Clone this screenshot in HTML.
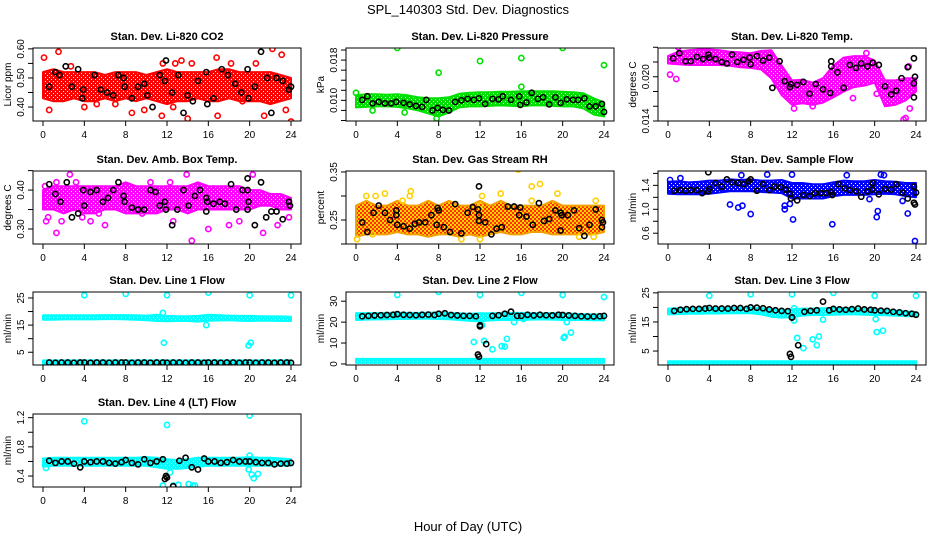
<!DOCTYPE html>
<html><head><meta charset="utf-8"><title>SPL_140303 Std. Dev. Diagnostics</title>
<style>
html,body{margin:0;padding:0;background:#fff;}
svg{display:block;font-family:"Liberation Sans",Arial,sans-serif;}
</style></head>
<body>
<svg id="chart" width="936" height="540" viewBox="0 0 936 540">
<text x="468" y="14" text-anchor="middle" font-size="13">SPL_140303  Std. Dev. Diagnostics</text>
<text x="468" y="531" text-anchor="middle" font-size="13">Hour of Day (UTC)</text>
</svg>
<script>
// ---- shared data ----
const hourTicks = [0,4,8,12,16,20,24];
const bandHours = [0,1,2,3,4,5,6,7,8,9,10,11,12,13,14,15,16,17,18,19,20,21,22,23,24];
const lineHours = [0.6,1.2,1.8,2.4,3.0,3.6,4.0,4.6,5.2,5.8,6.4,7.0,7.6,8.0,8.6,9.2,9.8,10.4,11.0,11.6,12.0,12.6,13.2,13.8,14.4,15.0,15.6,16.0,16.6,17.2,17.8,18.4,19.0,19.6,20.0,20.6,21.2,21.8,22.4,23.0,23.6,24.0];

// CO2
const co2Lo = [0.43,0.42,0.42,0.43,0.42,0.42,0.43,0.42,0.43,0.42,0.43,0.42,0.41,0.42,0.42,0.43,0.42,0.42,0.43,0.42,0.42,0.42,0.41,0.42,0.43];
const co2Hi = [0.52,0.53,0.52,0.52,0.52,0.52,0.51,0.52,0.52,0.52,0.51,0.52,0.53,0.52,0.52,0.52,0.52,0.53,0.53,0.52,0.52,0.52,0.52,0.51,0.50];
const co2OutX = [0.1,1.5,0.6,2.7,4,5.2,7,8.6,11.5,12.6,12.8,13.4,14,14.4,16.8,16.9,18.2,19.3,20.6,21.4,22.2,23.1,23.5,24,9.8,11.6];
const co2OutY = [0.57,0.59,0.39,0.54,0.40,0.41,0.41,0.38,0.37,0.40,0.55,0.56,0.36,0.55,0.57,0.37,0.55,0.42,0.55,0.37,0.60,0.58,0.39,0.35,0.39,0.55];
const co2BlkX = [0.6,1.2,1.6,2.2,2.8,3.4,3.9,3.8,5,5.6,6.2,6.8,7.3,7.9,7.8,8.6,9.2,9.8,10.1,10.6,11.3,11.8,11.9,12.5,13.1,13.6,14,14.5,15,15.8,15.9,16.5,17.3,17.9,18.6,19.2,19.8,19.9,20.5,21.1,21.7,22.1,22.6,23.2,23.8,24];
const co2BlkY = [0.47,0.52,0.51,0.54,0.47,0.53,0.46,0.43,0.51,0.46,0.45,0.44,0.51,0.47,0.50,0.43,0.47,0.48,0.44,0.40,0.51,0.49,0.56,0.45,0.51,0.38,0.44,0.42,0.49,0.52,0.41,0.43,0.53,0.51,0.48,0.45,0.53,0.43,0.47,0.59,0.50,0.38,0.50,0.49,0.46,0.47];

// Pressure
const prsLo = [0.0086,0.0087,0.0088,0.0088,0.0087,0.0084,0.0080,0.0074,0.0068,0.0076,0.0086,0.0088,0.0088,0.0089,0.0090,0.0089,0.0088,0.0090,0.0090,0.0089,0.0088,0.0088,0.0084,0.0072,0.0068];
const prsHi = [0.0110,0.0112,0.0112,0.0111,0.0112,0.0110,0.0106,0.0104,0.0104,0.0106,0.0113,0.0115,0.0116,0.0116,0.0117,0.0117,0.0118,0.0118,0.0118,0.0118,0.0117,0.0116,0.0114,0.0104,0.0096];
const prsOutX = [4,8,12,16,20,24,16,0,1.6,7.8,4.7];
const prsOutY = [0.0204,0.0155,0.0178,0.0184,0.0204,0.0170,0.0127,0.0115,0.0080,0.0064,0.0076];
const prsBlkX = [1.1,0.6,1.6,2.2,2.8,3.4,3.9,4.6,5.2,5.8,6.4,6.8,7.4,7.9,8.4,9,9.6,10.2,10.8,11.4,11.9,12.5,13.2,13.8,14.2,15,15.8,15.9,16.5,17,17.6,18.1,18.7,19.3,19.8,20.4,21,21.5,22.1,22.6,23.2,23.8,24];
const prsBlkY = [0.0108,0.0101,0.0094,0.0097,0.0094,0.0094,0.0097,0.0095,0.0092,0.0089,0.0087,0.0101,0.0080,0.0085,0.0081,0.0080,0.0097,0.0100,0.0103,0.0101,0.0104,0.0093,0.0103,0.0102,0.0108,0.0101,0.0108,0.0091,0.0096,0.0115,0.0103,0.0106,0.0092,0.0106,0.0095,0.0102,0.0101,0.0101,0.0104,0.0088,0.0088,0.0093,0.0077];

// Li-820 Temp
const tmpHi = [0.0228,0.0234,0.0236,0.0237,0.0237,0.0236,0.0234,0.0233,0.0232,0.0235,0.0236,0.0215,0.0195,0.0196,0.0192,0.0198,0.0215,0.0226,0.0228,0.0228,0.0222,0.0195,0.0195,0.0198,0.0198];
const tmpLo = [0.0218,0.0217,0.0216,0.0216,0.0216,0.0216,0.0215,0.0213,0.0212,0.0210,0.0198,0.0175,0.0162,0.0164,0.0162,0.0165,0.0172,0.0180,0.0186,0.0188,0.0192,0.0160,0.0162,0.0168,0.0180];
const tmpOutX = [0.2,0.8,1,12.2,14,17.9,19.2,20.2,22.8,23,23.4,23.3,13];
const tmpOutY = [0.0203,0.0197,0.0240,0.0157,0.0160,0.0171,0.0232,0.0177,0.0142,0.0144,0.0157,0.0214,0.0176];
const tmpBlkX = [0.5,1.1,1.7,2.2,2.8,3.4,3.9,4,4.6,5.2,5.7,6.2,6.7,7.3,7.9,8,8.6,9.2,9.8,10.1,10.8,11.3,11.9,11.8,12.5,13.1,13.7,14.3,15,15.8,15.8,15.7,16.4,17,17.6,18.2,18.7,19.3,19.8,20.4,21,21.6,22.1,22.6,23.2,23.8,23.8,23.9,23.8];
const tmpBlkY = [0.0225,0.0232,0.0221,0.0221,0.0227,0.0224,0.0230,0.0226,0.0224,0.0220,0.0218,0.0230,0.0220,0.0223,0.0226,0.0217,0.0228,0.0222,0.0226,0.0185,0.0221,0.0194,0.0190,0.0186,0.0189,0.0193,0.0177,0.0190,0.0183,0.0221,0.0214,0.0178,0.0206,0.0185,0.0216,0.0212,0.0218,0.0214,0.0219,0.0216,0.0187,0.0176,0.0181,0.0198,0.0213,0.0225,0.0191,0.0200,0.0172];

// Amb box temp
const ambHi = [0.40,0.41,0.41,0.41,0.41,0.41,0.41,0.41,0.42,0.41,0.41,0.41,0.41,0.41,0.41,0.42,0.41,0.41,0.41,0.41,0.40,0.40,0.39,0.39,0.38];
const ambLo = [0.35,0.35,0.34,0.35,0.34,0.34,0.35,0.35,0.34,0.34,0.34,0.34,0.35,0.35,0.34,0.35,0.35,0.35,0.35,0.35,0.35,0.36,0.36,0.35,0.35];
const ambOutX = [0.2,0.3,0.5,1.3,1.3,1.8,2.6,3.2,3.8,4.6,5.4,6,9.6,10.4,12.3,12.6,13.9,14.4,16,18,19,20.3,21.3,22.7,23.8];
const ambOutY = [0.41,0.32,0.33,0.42,0.29,0.32,0.44,0.42,0.33,0.32,0.34,0.31,0.34,0.42,0.42,0.32,0.44,0.27,0.30,0.31,0.32,0.44,0.29,0.31,0.33];
const ambBlkX = [0.6,1.2,1.7,2.3,2.8,3.4,3.9,4,4.6,5.2,5.8,6.3,6.8,7.3,7.8,7.9,8.6,9.2,9.8,10.4,10.9,11.3,11.8,11.9,11.8,12.5,13,13.6,14.1,14.7,15.2,15.8,15.8,15.9,16.5,17.1,17.6,18.2,18.7,19.3,19.8,19.8,19.8,19.9,20.5,21.1,21.6,22.1,22.6,23.2,23.8,23.9];
const ambBlkY = [0.415,0.39,0.37,0.42,0.33,0.34,0.40,0.36,0.395,0.40,0.37,0.38,0.40,0.42,0.385,0.37,0.355,0.35,0.35,0.40,0.395,0.36,0.37,0.35,0.46,0.31,0.35,0.40,0.36,0.385,0.40,0.38,0.345,0.37,0.365,0.37,0.365,0.415,0.35,0.40,0.40,0.43,0.35,0.37,0.31,0.42,0.33,0.345,0.345,0.325,0.37,0.36];

// Gas stream RH
const rhHi = [0.28,0.29,0.28,0.28,0.29,0.28,0.28,0.29,0.28,0.29,0.28,0.28,0.29,0.28,0.29,0.28,0.28,0.28,0.28,0.29,0.28,0.28,0.28,0.28,0.28];
const rhLo = [0.215,0.22,0.22,0.22,0.225,0.22,0.22,0.215,0.22,0.22,0.215,0.22,0.215,0.22,0.225,0.22,0.22,0.225,0.225,0.22,0.22,0.22,0.22,0.22,0.225];
const rhOutX = [0.1,1,1.9,2.8,4.5,5.3,5.2,10.2,12,12.2,14,15.7,17,17.8,19.5,23.2,17,21.6,23,1.6,12];
const rhOutY = [0.21,0.30,0.30,0.305,0.29,0.31,0.30,0.21,0.21,0.30,0.305,0.355,0.32,0.325,0.305,0.29,0.29,0.215,0.215,0.22,0.28];
const rhBlkX = [0.6,1.1,1.7,2.2,2.8,3.3,3.9,3.9,4,4.6,5.2,5.7,6.1,6.7,7.3,7.8,7.9,8,8.5,9.1,9.6,10.2,10.8,11.3,11.8,11.9,11.9,11.9,12.5,13.1,13.6,14.1,14.7,15.3,15.8,15.9,16.5,17.1,17.7,18.2,18.7,19.3,19.8,19.8,19.9,20.5,21.1,21.6,22.1,22.6,23.2,23.8,23.8,23.9];
const rhBlkY = [0.245,0.225,0.265,0.28,0.265,0.25,0.26,0.27,0.24,0.237,0.232,0.242,0.245,0.245,0.26,0.24,0.275,0.27,0.235,0.225,0.283,0.222,0.265,0.277,0.272,0.32,0.26,0.248,0.245,0.22,0.232,0.235,0.278,0.278,0.26,0.276,0.257,0.24,0.285,0.248,0.252,0.27,0.265,0.228,0.26,0.26,0.27,0.233,0.217,0.24,0.272,0.25,0.235,0.245];

// Sample flow
const sfHi = [1.46,1.47,1.45,1.46,1.48,1.48,1.50,1.49,1.50,1.48,1.48,1.49,1.44,1.44,1.42,1.42,1.45,1.48,1.47,1.47,1.49,1.47,1.46,1.44,1.44];
const sfLo = [1.26,1.25,1.25,1.25,1.26,1.28,1.30,1.30,1.30,1.29,1.28,1.27,1.18,1.18,1.18,1.18,1.22,1.24,1.24,1.24,1.25,1.26,1.25,1.22,1.20];
const sfOutX = [6,6.8,7.2,8,11.3,11.3,11.8,12.1,15.9,19.5,20.2,20.3,22.7,23.2,23.9,12,17.3,20.6,20.9,1.2,0.2,9.6,7.1];
const sfOutY = [1.08,1.03,1.06,0.92,1.06,1.00,1.09,0.83,0.75,1.17,0.87,0.97,1.14,0.93,0.47,1.58,1.57,1.58,1.57,1.52,1.49,1.58,1.57];
const sfBlkX = [0.6,1.2,1.7,2.2,2.8,3.3,3.9,4,3.9,4.6,5.2,5.7,6.2,6.8,7.3,7.8,8,8.6,9.2,9.8,10.3,10.9,11.4,11.8,11.9,12.5,13.1,13.7,14.2,14.8,15.3,15.8,15.9,16.5,17.1,17.6,18.2,18.7,19.3,19.8,19.8,20.4,21,21.6,22.1,22.7,23.2,23.8,23.8,23.9,24];
const sfBlkY = [1.31,1.32,1.31,1.32,1.32,1.27,1.30,1.34,1.62,1.44,1.38,1.50,1.45,1.44,1.42,1.47,1.50,1.31,1.42,1.32,1.38,1.37,1.33,1.26,1.18,1.15,1.24,1.22,1.27,1.27,1.27,1.29,1.24,1.42,1.35,1.32,1.30,1.21,1.30,1.44,1.33,1.25,1.34,1.33,1.42,1.28,1.18,1.38,1.11,1.08,1.28];

// Line 1 flow
const l1Hi = [18.6,18.6,18.6,18.6,18.6,18.6,18.7,18.7,18.7,18.6,18.5,18.8,18.4,18.3,18.3,18.4,18.8,18.7,18.5,18.4,18.4,18.3,18.2,18.2,18.1];
const l1Lo = [17.0,17.0,17.1,17.1,17.1,17.1,17.2,17.2,17.1,17.0,16.8,16.5,16.4,16.5,16.5,16.3,16.6,16.7,16.8,16.6,16.5,16.6,16.6,16.5,16.5];
const l1LowLo = [0.8,0.8,0.8,0.8,0.8,0.8,0.8,0.8,0.8,0.8,0.8,0.8,0.8,0.8,0.8,0.8,0.8,0.8,0.8,0.8,0.8,0.8,0.8,0.8,0.8];
const l1LowHi = [2.0,2.0,2.0,2.0,2.0,2.0,2.0,2.0,2.0,2.0,2.0,2.0,2.0,2.0,2.0,2.0,2.0,2.0,2.0,2.0,2.0,2.0,2.0,2.0,2.0];
const l1OutX = [4,8,12,16,20,24,11.7,15.8,19.9,20.1,11.6];
const l1OutY = [26,26.5,26,27,26,26,8.5,15,7.5,8.5,19.5];
const l1BlkY = [1.2,1.1,1.2,1.2,1.1,1.2,1.2,1.1,1.2,1.2,1.1,1.2,1.2,1.2,1.1,1.2,1.2,1.1,1.2,1.2,1.1,1.2,1.2,1.1,1.2,1.2,1.1,1.2,1.2,1.1,1.2,1.2,1.1,1.2,1.2,1.1,1.2,1.2,1.1,1.2,1.2,1.1];

// Line 2 flow
const l2Hi = [24.3,24.3,24.3,24.4,24.5,24.4,24.4,24.5,24.6,24.4,24.2,24.0,24.2,24.2,24.3,24.4,24.4,24.2,24.2,24.3,24.2,24.0,23.8,23.7,23.6];
const l2Lo = [21.0,21.2,21.3,21.4,21.5,21.5,21.6,21.6,21.5,21.4,21.0,20.6,20.4,20.8,21.0,21.0,21.0,21.2,21.3,21.2,21.0,21.0,21.0,20.9,20.8];
const l2LowLo = [0.5,0.5,0.5,0.5,0.5,0.5,0.5,0.5,0.5,0.5,0.5,0.5,0.5,0.5,0.5,0.5,0.5,0.5,0.5,0.5,0.5,0.5,0.5,0.5,0.5];
const l2LowHi = [2.4,2.4,2.4,2.4,2.4,2.4,2.4,2.4,2.4,2.4,2.4,2.4,2.4,2.4,2.4,2.4,2.4,2.4,2.4,2.4,2.4,2.4,2.4,2.4,2.4];
const l2OutX = [4,8,12,16,20,24,11.4,12.4,13.2,14.1,14.4,14.6,15.3,16.2,20.1,20.2,20.8,20.4,12.2];
const l2OutY = [33,34.5,33,34,33,32,10.5,11,7,8.5,8.3,12,20,21.5,12.5,13,15,20,18.5];
const l2BlkY = [22.8,23,23.2,23.3,23.4,23.5,23.8,23.5,23.4,23.3,23.5,23.6,23.4,24,24.2,23.4,23.2,23.0,23.0,22.8,18.5,9.5,23,23.3,24,25,23,23,23.5,23.2,23.5,23.3,23.2,23.5,23.4,23.2,23,22.8,22.7,22.7,22.8,23];
const l2ExtraX = [11.8,11.9,12.0];
const l2ExtraY = [4.5,3.5,18];

// Line 3 flow
const l3Hi = [19.6,19.7,19.7,19.8,19.8,19.8,19.9,19.9,20.0,19.8,19.4,19.0,19.4,19.6,19.6,19.7,19.8,19.8,19.7,19.6,19.4,19.2,18.9,18.6,18.4];
const l3Lo = [17.6,17.7,17.8,17.8,17.9,17.9,18.0,18.0,18.0,17.6,16.8,16.5,16.6,17.2,17.4,17.4,17.5,17.6,17.6,17.5,17.4,17.3,17.2,17.0,16.9];
const l3LowLo = [0.4,0.4,0.4,0.4,0.4,0.4,0.4,0.4,0.4,0.4,0.4,0.4,0.4,0.4,0.4,0.4,0.4,0.4,0.4,0.4,0.4,0.4,0.4,0.4,0.4];
const l3LowHi = [1.5,1.5,1.5,1.5,1.5,1.5,1.5,1.5,1.5,1.5,1.5,1.5,1.5,1.5,1.5,1.5,1.5,1.5,1.5,1.5,1.5,1.5,1.5,1.5,1.5];
const l3OutX = [4,8,12,16,20,24,12.2,12.5,13.1,14,14.4,14.6,15,20.1,20.2,20.8,12.2];
const l3OutY = [24,24.5,24.5,25,24,24,15.5,9.5,6,9,7,10,15.8,16,11.5,12,19.7];
const l3BlkY = [18.8,19.2,19.4,19.5,19.5,19.6,19.8,19.6,19.6,19.6,19.8,19.8,19.5,20,19.9,19.7,19.3,19.0,18.8,18.7,16.6,7,18.5,18.8,19,22,19,19.5,19.3,19.2,19.4,19.6,19.3,19.2,19.0,18.9,18.8,18.5,18.3,18.0,17.8,17.5];
const l3ExtraX = [11.8,11.9,12.0];
const l3ExtraY = [4,3,16.5];

// Line 4 flow
const l4Hi = [0.64,0.65,0.65,0.65,0.65,0.65,0.65,0.65,0.65,0.65,0.66,0.65,0.63,0.62,0.63,0.65,0.65,0.65,0.65,0.65,0.66,0.65,0.65,0.64,0.63];
const l4Lo = [0.53,0.54,0.54,0.54,0.54,0.54,0.54,0.54,0.54,0.54,0.54,0.52,0.50,0.50,0.51,0.53,0.54,0.54,0.54,0.54,0.54,0.54,0.54,0.54,0.54];
const l4OutX = [4,12,20,11.6,12.3,12.6,13.1,14.1,14.5,14.7,19.9,20.2,20.4,20.8,0.3,20];
const l4OutY = [1.15,1.1,1.23,0.27,0.45,0.27,0.28,0.29,0.27,0.27,0.49,0.42,0.37,0.43,0.51,0.68];
const l4BlkY = [0.61,0.58,0.60,0.60,0.57,0.52,0.60,0.59,0.60,0.60,0.58,0.57,0.59,0.62,0.58,0.56,0.63,0.58,0.60,0.63,0.38,0.26,0.61,0.65,0.52,0.49,0.64,0.60,0.60,0.58,0.59,0.62,0.60,0.60,0.60,0.59,0.58,0.58,0.56,0.57,0.57,0.58];
const l4ExtraX = [11.8,11.9];
const l4ExtraY = [0.36,0.40];

// ---- layout / rendering ----
const NS = 'http://www.w3.org/2000/svg';
const svg = document.getElementById('chart');
function mk(tag, attrs, parent){ const e=document.createElementNS(NS,tag); for(const k in attrs) e.setAttribute(k,attrs[k]); (parent||svg).appendChild(e); return e; }

const colX0 = [43,356,668];
const rowTop = [48,171,292,414];
const BOXH = 73;

const panels = [
 {key:'co2',title:'Stan. Dev. Li-820 CO2',ylab:'Licor ppm',col:0,row:0,ymin:0.352,ymax:0.603,ticks:[0.40,0.45,0.50,0.55,0.60],labels:[[0.40,'0.40'],[0.50,'0.50'],[0.60,'0.60']],color:'#ff0000',
  bands:[[co2Lo,co2Hi]],outX:co2OutX,outY:co2OutY,blkX:co2BlkX,blkY:co2BlkY},
 {key:'pressure',title:'Stan. Dev. Li-820 Pressure',ylab:'kPa',col:1,row:0,ymin:0.0059,ymax:0.0204,ticks:[0.006,0.008,0.010,0.012,0.014,0.016,0.018,0.020],labels:[[0.010,'0.010'],[0.018,'0.018']],color:'#00e000',
  bands:[[prsLo,prsHi]],outX:prsOutX,outY:prsOutY,blkX:prsBlkX,blkY:prsBlkY},
 {key:'li820-temp',title:'Stan. Dev. Li-820 Temp.',ylab:'degrees C',col:2,row:0,ymin:0.014,ymax:0.0239,ticks:[0.014,0.016,0.018,0.020,0.022,0.024],labels:[[0.014,'0.014'],[0.020,'0.020']],color:'#ff00ff',
  bands:[[tmpLo,tmpHi]],outX:tmpOutX,outY:tmpOutY,blkX:tmpBlkX,blkY:tmpBlkY},
 {key:'amb-temp',title:'Stan. Dev. Amb. Box Temp.',ylab:'degrees C',col:0,row:1,ymin:0.2615,ymax:0.449,ticks:[0.30,0.35,0.40,0.45],labels:[[0.30,'0.30'],[0.40,'0.40']],color:'#ff00ff',
  bands:[[ambLo,ambHi]],outX:ambOutX,outY:ambOutY,blkX:ambBlkX,blkY:ambBlkY},
 {key:'rh',title:'Stan. Dev. Gas Stream RH',ylab:'percent',col:1,row:1,ymin:0.20,ymax:0.352,ticks:[0.20,0.25,0.30,0.35],labels:[[0.25,'0.25'],[0.35,'0.35']],color:'#ff3000',bg:'#ffd200',ocolor:'#ffd000',
  bands:[[rhLo,rhHi]],outX:rhOutX,outY:rhOutY,blkX:rhBlkX,blkY:rhBlkY},
 {key:'sample-flow',title:'Stan. Dev. Sample Flow',ylab:'ml/min',col:2,row:1,ymin:0.42,ymax:1.64,ticks:[0.6,0.8,1.0,1.2,1.4,1.6],labels:[[0.6,'0.6'],[1.0,'1.0'],[1.4,'1.4']],color:'#0000ff',
  bands:[[sfLo,sfHi]],outX:sfOutX,outY:sfOutY,blkX:sfBlkX,blkY:sfBlkY},
 {key:'line1',title:'Stan. Dev. Line 1 Flow',ylab:'ml/min',col:0,row:2,ymin:0.3,ymax:27.2,ticks:[5,10,15,20,25],labels:[[5,'5'],[15,'15'],[25,'25']],color:'#00ffff',
  bands:[[l1Lo,l1Hi],[l1LowLo,l1LowHi]],outX:l1OutX,outY:l1OutY,blkX:lineHours,blkY:l1BlkY},
 {key:'line2',title:'Stan. Dev. Line 2 Flow',ylab:'ml/min',col:1,row:2,ymin:-0.5,ymax:34.4,ticks:[0,10,20,30],labels:[[0,'0'],[10,'10'],[20,'20'],[30,'30']],color:'#00ffff',
  bands:[[l2Lo,l2Hi],[l2LowLo,l2LowHi]],outX:l2OutX,outY:l2OutY,blkX:lineHours.concat(l2ExtraX),blkY:l2BlkY.concat(l2ExtraY)},
 {key:'line3',title:'Stan. Dev. Line 3 Flow',ylab:'ml/min',col:2,row:2,ymin:0.2,ymax:25.3,ticks:[5,10,15,20,25],labels:[[5,'5'],[15,'15'],[25,'25']],color:'#00ffff',
  bands:[[l3Lo,l3Hi],[l3LowLo,l3LowHi]],outX:l3OutX,outY:l3OutY,blkX:lineHours.concat(l3ExtraX),blkY:l3BlkY.concat(l3ExtraY)},
 {key:'line4',title:'Stan. Dev. Line 4 (LT) Flow',ylab:'ml/min',col:0,row:3,ymin:0.25,ymax:1.25,ticks:[0.4,0.6,0.8,1.0,1.2],labels:[[0.4,'0.4'],[0.8,'0.8'],[1.2,'1.2']],color:'#00ffff',
  bands:[[l4Lo,l4Hi]],outX:l4OutX,outY:l4OutY,blkX:lineHours.concat(l4ExtraX),blkY:l4BlkY.concat(l4ExtraY)}
];

const defs = mk('defs',{});

panels.forEach(p=>{
  const x0 = colX0[p.col], top = rowTop[p.row], bot = top+BOXH;
  const left = x0-10, right = x0+258;
  const xs = h => x0 + h*(248/24);
  const ys = v => bot - (v-p.ymin)/(p.ymax-p.ymin)*BOXH;
  const g = mk('g',{});
  
  
  const t = mk('text',{x:(left+right)/2,y:top-8,'text-anchor':'middle','font-size':11,'font-weight':'bold'},g);
  t.textContent = p.title;
  
  

  // speckle pattern for the dense cloud
  const patId = 'pat-'+p.key;
  const pat = mk('pattern',{id:patId,width:4,height:4,patternUnits:'userSpaceOnUse'},defs);
  if(p.bg){
    mk('rect',{x:0,y:0,width:4,height:4,fill:p.bg},pat);
    mk('rect',{x:0,y:0,width:2,height:2,fill:p.color},pat);
    mk('rect',{x:2,y:2,width:2,height:2,fill:p.color},pat);
  } else {
    mk('rect',{x:0,y:0,width:4,height:4,fill:p.color},pat);
    mk('rect',{x:1,y:1,width:1,height:1,fill:'#fff'},pat);
    mk('rect',{x:3,y:3,width:1,height:1,fill:'#fff'},pat);
  }

  const clipId = 'clip-'+p.key;
  const cp = mk('clipPath',{id:clipId},defs);
  mk('rect',{x:left,y:top,width:right-left,height:BOXH},cp);
  const plot = mk('g',{'clip-path':'url(#'+clipId+')'},g);
  
  

  p.bands.forEach(b=>{
    const lo=b[0], hi=b[1];
    let pts=[];
    bandHours.forEach((h,i)=>pts.push(xs(h).toFixed(1)+','+ys(hi[i]).toFixed(1)));
    for(let i=bandHours.length-1;i>=0;i--) pts.push(xs(bandHours[i]).toFixed(1)+','+ys(lo[i]).toFixed(1));
    const poly = mk('polygon',{points:pts.join(' '),fill:'url(#'+patId+')',stroke:p.bg?'#f2a000':p.color,'stroke-width':2,'stroke-linejoin':'round'},plot);
    
    
  });
  p.outX.forEach((h,i)=>{
    const c = mk('circle',{cx:xs(h),cy:ys(p.outY[i]),r:2.6,fill:'none',stroke:p.ocolor||p.color,'stroke-width':1.6},plot);
    
    
  });
  p.blkX.forEach((h,i)=>{
    const c = mk('circle',{cx:xs(h),cy:ys(p.blkY[i]),r:2.6,fill:'none',stroke:'#000','stroke-width':1.6},plot);
    
    
  });

  const box = mk('rect',{x:left,y:top,width:right-left,height:BOXH,fill:'none',stroke:'#000','stroke-width':1},g);
  
  

  const xa = mk('g',{},g);
  
  
  hourTicks.forEach(h=>{
    mk('line',{x1:xs(h),x2:xs(h),y1:bot,y2:bot+5,stroke:'#000'},xa);
    const tl = mk('text',{x:xs(h),y:bot+17,'text-anchor':'middle','font-size':10},xa);
    tl.textContent = h;
    
    
  });
  const ya = mk('g',{},g);
  
  
  p.ticks.forEach(v=>{ mk('line',{x1:left-5,x2:left,y1:ys(v),y2:ys(v),stroke:'#000'},ya); });
  p.labels.forEach(l=>{
    const y = ys(l[0]);
    const tl = mk('text',{x:left-9,y:y,'text-anchor':'middle','font-size':10,transform:'rotate(-90 '+(left-9)+' '+y+')'},ya);
    tl.textContent = l[1];
    
    
  });
  const yl = mk('text',{x:left-22,y:top+BOXH/2,'text-anchor':'middle','font-size':10,transform:'rotate(-90 '+(left-22)+' '+(top+BOXH/2)+')'},g);
  yl.textContent = p.ylab;
  
  
});
</script>
</body></html>
